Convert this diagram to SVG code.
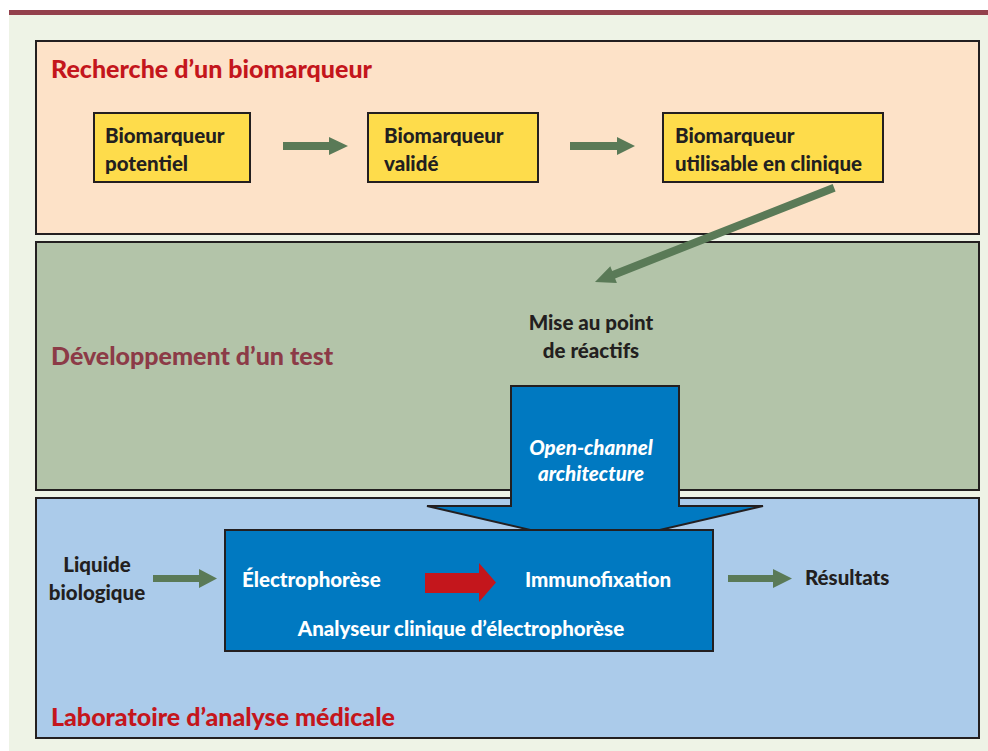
<svg xmlns="http://www.w3.org/2000/svg" width="988" height="751" viewBox="0 0 988 751">
<defs>
<style>
.panel{stroke:#231F20;stroke-width:2}
.ybox{fill:#FEDC4B;stroke:#231F20;stroke-width:2}
.t{font-family:Lato,"Open Sans","Liberation Sans",sans-serif;font-weight:900}
.lbl{font-size:20.5px;fill:#231F20}
.wl{font-size:20.5px;fill:#FFFFFF}
.title{font-size:25px}
.garrow{fill:#5A7A57}
</style>
</defs>
<rect x="0" y="0" width="988" height="751" fill="#FFFFFF"/>
<rect x="9" y="15" width="979" height="736" fill="#EEF3E6"/>
<rect x="9" y="10" width="979" height="5" fill="#93404C"/>

<g id="panel-recherche">
<rect class="panel" x="36" y="41" width="943" height="193" fill="#FDE2C8"/>
<text class="t title" x="51" y="78" fill="#C4161C">Recherche d’un biomarqueur</text>
</g>
<g id="panel-developpement">
<rect class="panel" x="36" y="242" width="943" height="248" fill="#B3C4A9"/>
<text class="t title" x="51" y="365" fill="#8C3B47">Développement d’un test</text>
</g>
<g id="panel-laboratoire">
<rect class="panel" x="36" y="498" width="943" height="240" fill="#ABCBEA"/>
<text class="t title" x="51" y="726" fill="#C4161C">Laboratoire d’analyse médicale</text>
</g>

<g id="node-potentiel">
<rect class="ybox" x="94" y="113" width="156" height="69"/>
<text class="t lbl" x="105" y="143">Biomarqueur</text>
<text class="t lbl" x="105" y="171">potentiel</text>
</g>
<g id="node-valide">
<rect class="ybox" x="368" y="113" width="170" height="69"/>
<text class="t lbl" x="384" y="143">Biomarqueur</text>
<text class="t lbl" x="384" y="171">validé</text>
</g>
<g id="node-clinique">
<rect class="ybox" x="663" y="113" width="220" height="69"/>
<text class="t lbl" x="675" y="143">Biomarqueur</text>
<text class="t lbl" x="675" y="171">utilisable en clinique</text>
</g>

<g id="node-reactifs">
<text class="t lbl" x="591" y="330" text-anchor="middle">Mise au point</text>
<text class="t lbl" x="591" y="358" text-anchor="middle">de réactifs</text>
</g>

<g id="node-open-channel">
<path d="M511 386 H679 V506 H763 L595 545 L427 506 H511 Z" fill="#0079C1" stroke="#231F20" stroke-width="2" stroke-linejoin="miter"/>
<text class="t wl" x="591" y="455" text-anchor="middle" font-style="italic" font-size="21.5px">Open-channel</text>
<text class="t wl" x="591" y="481" text-anchor="middle" font-style="italic" font-size="21.5px">architecture</text>
</g>

<g id="node-analyseur">
<rect x="225" y="530" width="488" height="121" fill="#0079C1" stroke="#231F20" stroke-width="2"/>
<text class="t wl" x="242" y="587">Électrophorèse</text>
<text class="t wl" x="525" y="587">Immunofixation</text>
<text class="t wl" x="461" y="636" text-anchor="middle">Analyseur clinique d’électrophorèse</text>
</g>

<g id="node-liquide">
<text class="t lbl" x="97" y="572" text-anchor="middle">Liquide</text>
<text class="t lbl" x="97" y="600" text-anchor="middle">biologique</text>
</g>
<g id="node-resultats">
<text class="t lbl" x="805" y="585">Résultats</text>
</g>

<g id="connectors">
<path class="garrow" d="M283 142 H329 V137 L348 146 L329 155 V150 H283 Z"/>
<path class="garrow" d="M570 142 H617 V137 L635 146 L617 155 V150 H570 Z"/>
<g transform="translate(595 282) rotate(-21.5)">
<path class="garrow" d="M0 0 L20 -9 V-4 H257 V4 H20 V9 Z"/>
</g>
<path d="M425 573 H479 V563 L496 582.5 L479 602 V593 H425 Z" fill="#C4161C"/>
<path class="garrow" d="M153 575 H199 V569 L217 578.5 L199 588 V582 H153 Z"/>
<path class="garrow" d="M728 575 H773 V569 L792 578.5 L773 588 V582 H728 Z"/>
</g>
</svg>
